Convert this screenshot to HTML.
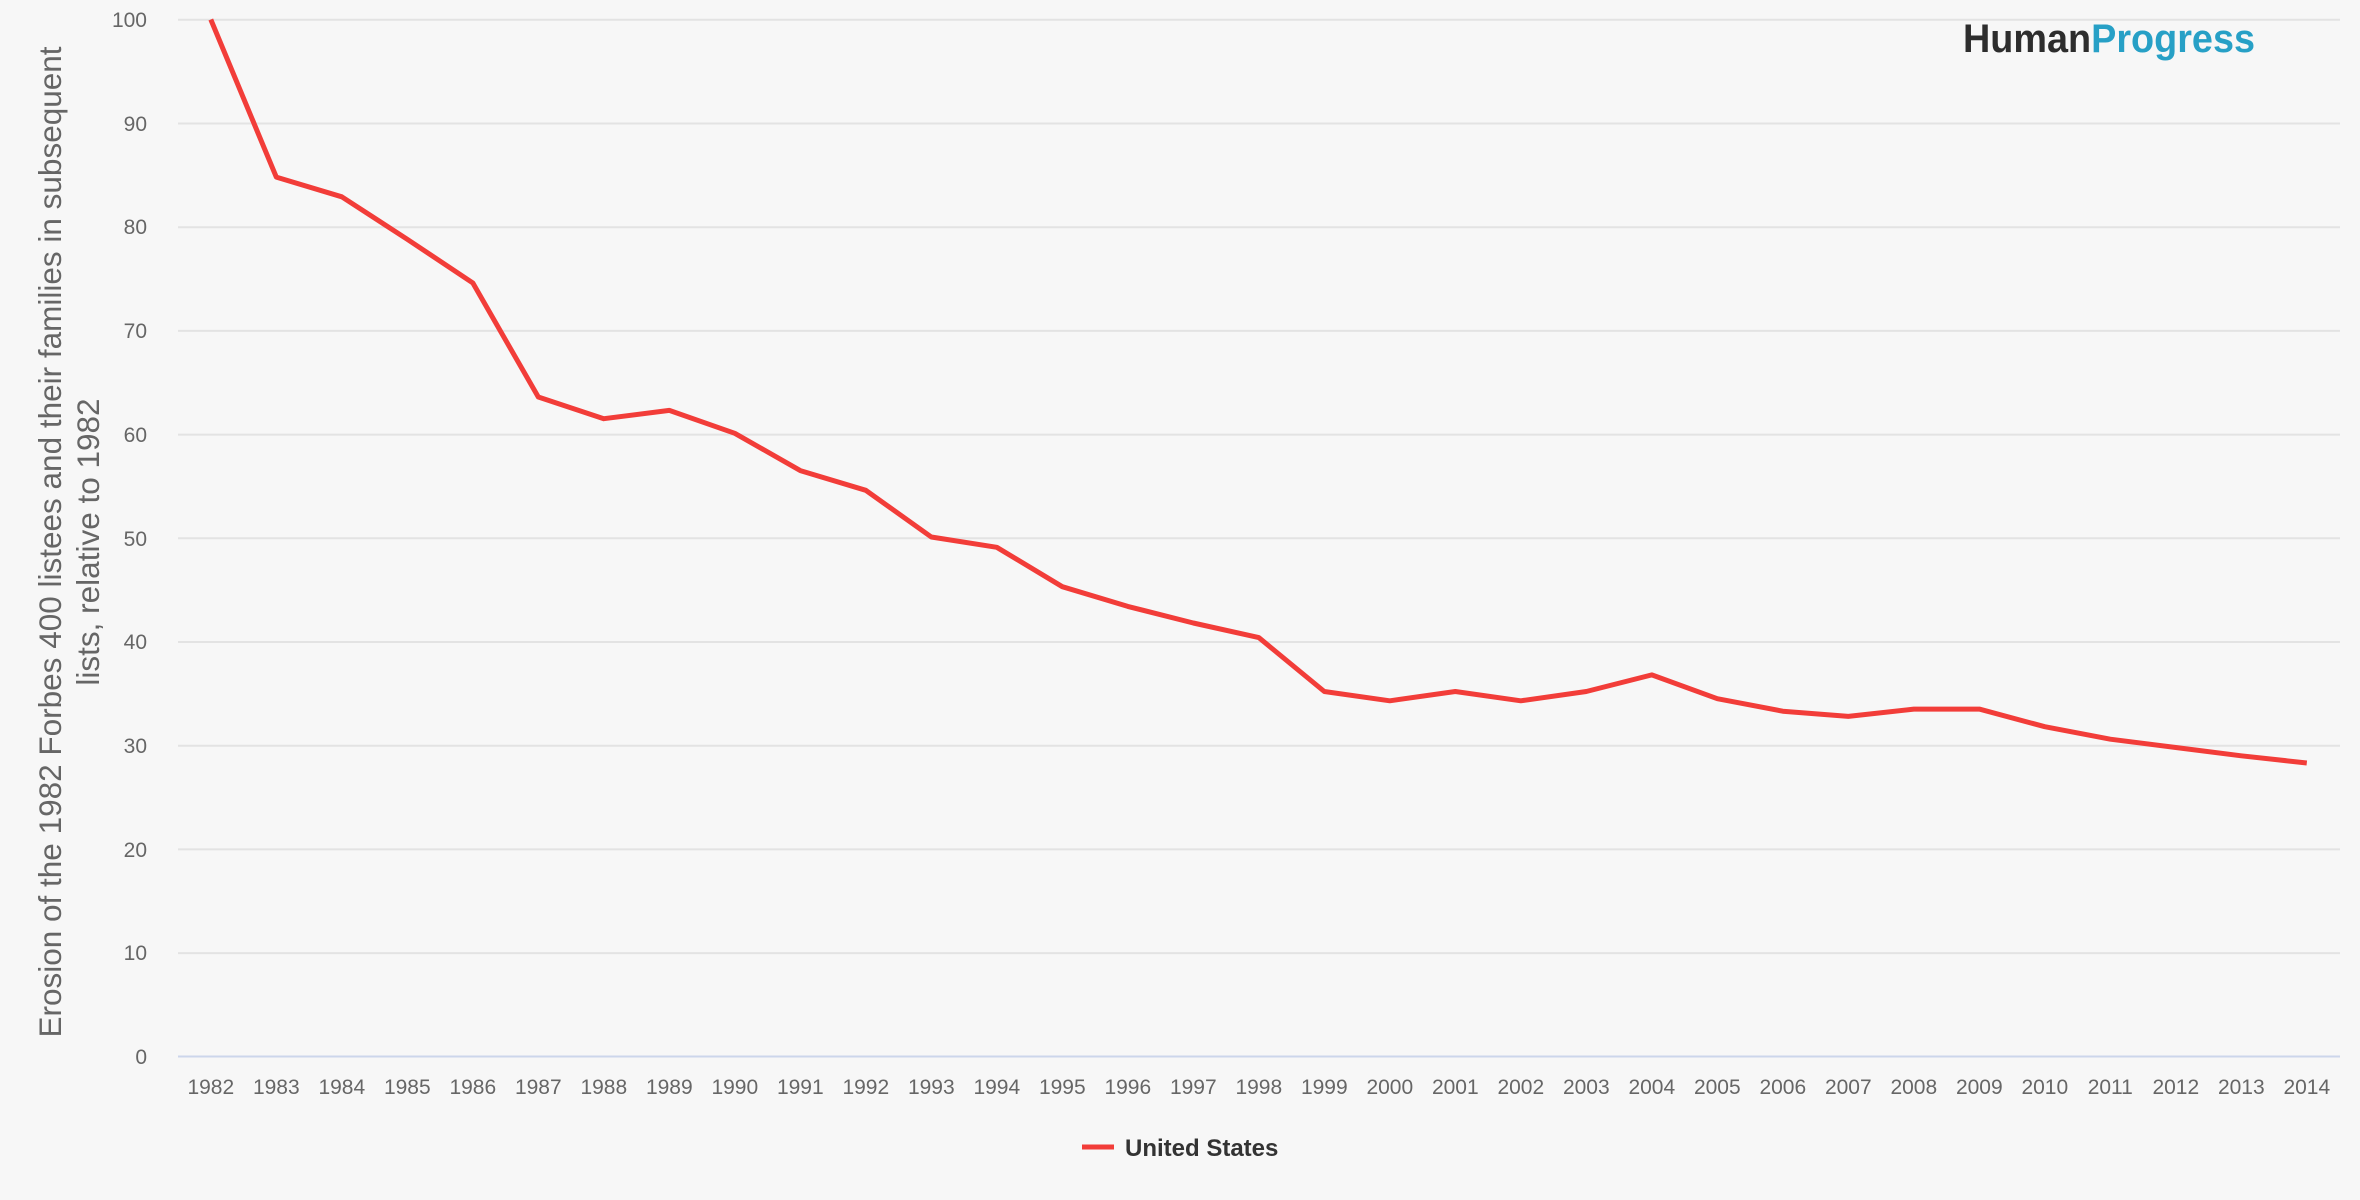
<!DOCTYPE html>
<html><head><meta charset="utf-8"><style>
html,body{margin:0;padding:0;background:#f7f7f7;}
svg{display:block;}
text{font-family:"Liberation Sans",Arial,sans-serif;}
</style></head><body>
<svg width="2360" height="1200" viewBox="0 0 2360 1200" xmlns="http://www.w3.org/2000/svg">
<rect width="2360" height="1200" fill="#f7f7f7"/>
<g stroke="#e3e3e3" stroke-width="2">
<line x1="178" x2="2340" y1="19.8" y2="19.8"/>
<line x1="178" x2="2340" y1="123.5" y2="123.5"/>
<line x1="178" x2="2340" y1="227.2" y2="227.2"/>
<line x1="178" x2="2340" y1="330.9" y2="330.9"/>
<line x1="178" x2="2340" y1="434.6" y2="434.6"/>
<line x1="178" x2="2340" y1="538.3" y2="538.3"/>
<line x1="178" x2="2340" y1="642.0" y2="642.0"/>
<line x1="178" x2="2340" y1="745.7" y2="745.7"/>
<line x1="178" x2="2340" y1="849.4" y2="849.4"/>
<line x1="178" x2="2340" y1="953.1" y2="953.1"/>
</g>
<line x1="178" x2="2340" y1="1056.5" y2="1056.5" stroke="#ccd6eb" stroke-width="2"/>
<g fill="#666" font-size="21" text-anchor="end">
<text x="147" y="27">100</text>
<text x="147" y="131">90</text>
<text x="147" y="234">80</text>
<text x="147" y="338">70</text>
<text x="147" y="442">60</text>
<text x="147" y="546">50</text>
<text x="147" y="649">40</text>
<text x="147" y="753">30</text>
<text x="147" y="857">20</text>
<text x="147" y="960">10</text>
<text x="147" y="1064">0</text>
</g>
<g fill="#666" font-size="21" text-anchor="middle" id="xl"></g>
<g transform="translate(61,542) rotate(-90)" fill="#666" font-size="31.5" text-anchor="middle">
<text x="0" y="0">Erosion of the 1982 Forbes 400 listees and their families in subsequent</text>
<text x="0" y="38">lists, relative to 1982</text>
</g>
<polyline id="ln" fill="none" stroke="#f23d39" stroke-width="5" stroke-linejoin="round" points=""/>
<line x1="1082" x2="1114" y1="1147" y2="1147" stroke="#f23d39" stroke-width="5"/>
<text x="1125" y="1156" font-size="24" font-weight="bold" fill="#333">United States</text>
<text x="1963" y="52" font-size="40" font-weight="bold" textLength="292" lengthAdjust="spacingAndGlyphs"><tspan fill="#2d2d2d">Human</tspan><tspan fill="#27a0c6">Progress</tspan></text>
</svg>
<script>
var v=[100,84.8,82.9,78.8,74.6,63.6,61.5,62.3,60.1,56.5,54.6,50.1,49.1,45.3,43.4,41.8,40.4,35.2,34.3,35.2,34.3,35.2,36.8,34.5,33.3,32.8,33.5,33.5,31.8,30.6,29.8,29.0,28.3];
var pts=[],xl=document.getElementById('xl'),s='';
for(var i=0;i<33;i++){var x=178+65.5*(i+0.5);pts.push(x.toFixed(1)+','+(1056.5-v[i]*10.37).toFixed(1));
s+='<text x="'+x.toFixed(1)+'" y="1094">'+(1982+i)+'</text>';}
xl.innerHTML=s;
document.getElementById('ln').setAttribute('points',pts.join(' '));
</script>
</body></html>
